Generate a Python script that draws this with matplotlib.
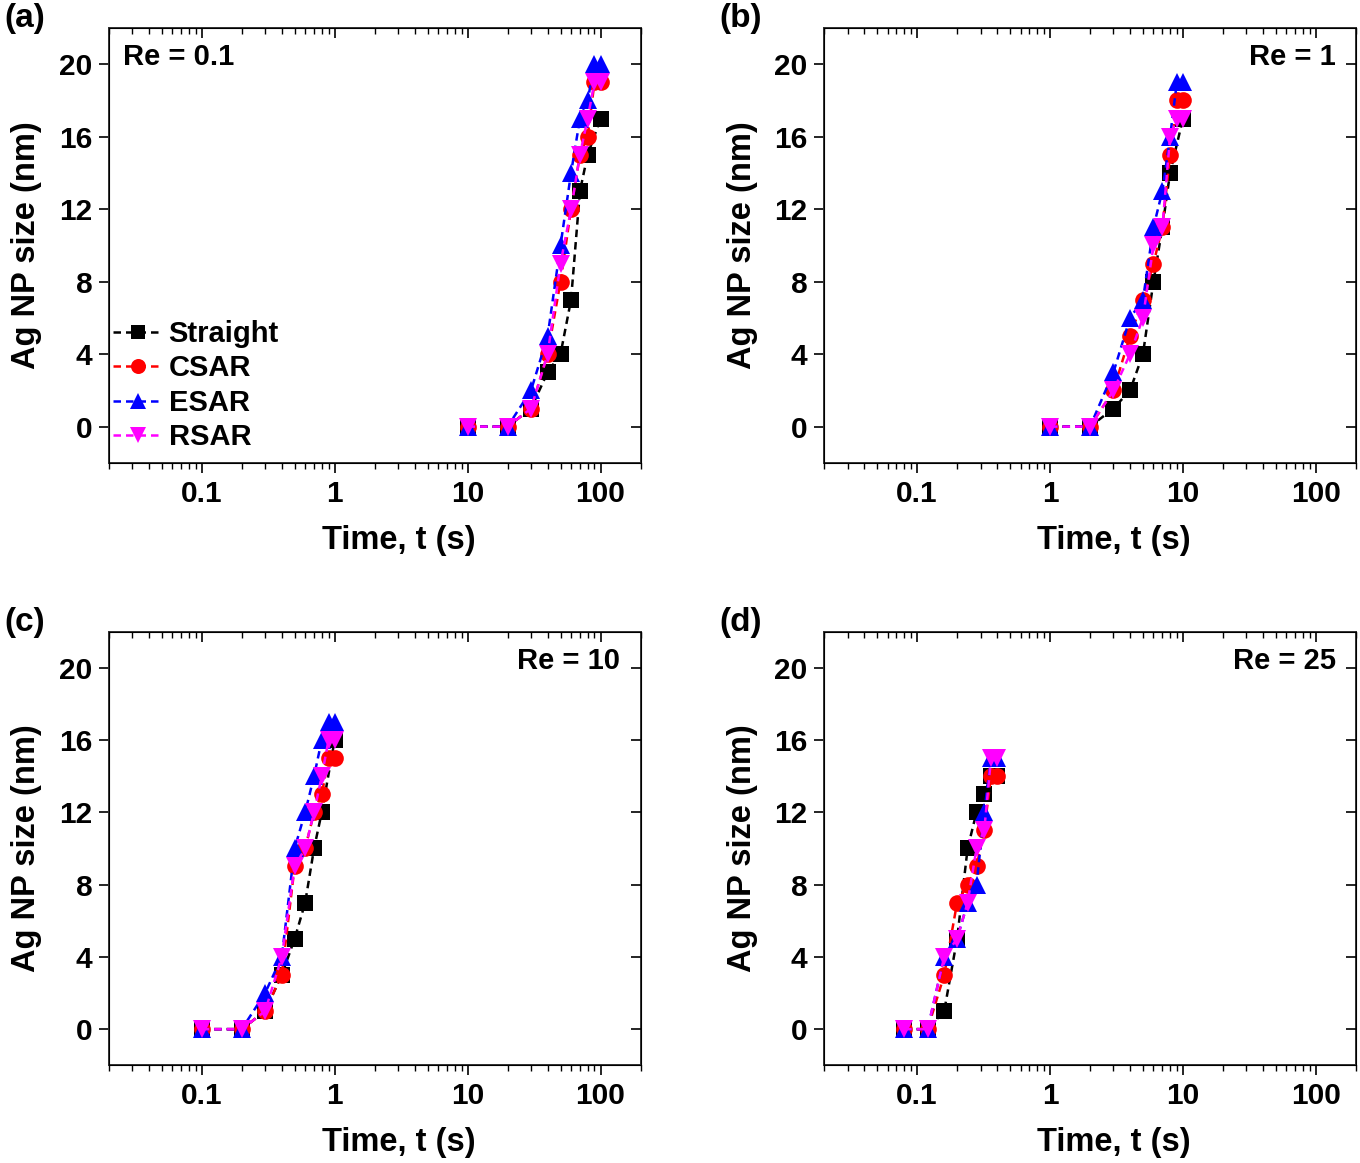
import matplotlib
matplotlib.use("Agg")
import matplotlib.pyplot as plt
from matplotlib.ticker import FixedLocator, LogLocator, NullFormatter, FuncFormatter

plt.rcParams['font.family'] = ['Liberation Sans', 'DejaVu Sans']
plt.rcParams['font.weight'] = 'bold'
plt.rcParams['axes.labelweight'] = 'bold'

# ---- data ----
series_names = ['Straight', 'CSAR', 'ESAR', 'RSAR']
series_colors = ['black', 'red', 'blue', 'magenta']
series_markers = ['s', 'o', '^', 'v']
series_msize = [11, 12, 13, 13]

panel_tags = ['(a)', '(b)', '(c)', '(d)']
panel_re = ['Re = 0.1', 'Re = 1', 'Re = 10', 'Re = 25']

# (a) Re = 0.1
t_a = [10, 20, 30, 40, 50, 60, 70, 80, 90, 100]
t_a_straight = [10, 20, 30, 40, 50, 60, 70, 80, 100]
straight_a = [0, 0, 1, 3, 4, 7, 13, 15, 17]
csar_a = [0, 0, 1, 4, 8, 12, 15, 16, 19, 19]
esar_a = [0, 0, 2, 5, 10, 14, 17, 18, 20, 20]
rsar_a = [0, 0, 1, 4, 9, 12, 15, 17, 19, 19]

# (b) Re = 1
t_b = [1, 2, 3, 4, 5, 6, 7, 8, 9, 10]
t_b_straight = [1, 2, 3, 4, 5, 6, 7, 8, 10]
straight_b = [0, 0, 1, 2, 4, 8, 11, 14, 17]
csar_b = [0, 0, 2, 5, 7, 9, 11, 15, 18, 18]
esar_b = [0, 0, 3, 6, 7, 11, 13, 16, 19, 19]
rsar_b = [0, 0, 2, 4, 6, 10, 11, 16, 17, 17]

# (c) Re = 10
t_c = [0.1, 0.2, 0.3, 0.4, 0.5, 0.6, 0.7, 0.8, 0.9, 1.0]
t_c_straight = [0.1, 0.2, 0.3, 0.4, 0.5, 0.6, 0.7, 0.8, 1.0]
straight_c = [0, 0, 1, 3, 5, 7, 10, 12, 16]
csar_c = [0, 0, 1, 3, 9, 10, 12, 13, 15, 15]
esar_c = [0, 0, 2, 4, 10, 12, 14, 16, 17, 17]
rsar_c = [0, 0, 1, 4, 9, 10, 12, 14, 16, 16]

# (d) Re = 25
t_d = [0.08, 0.12, 0.16, 0.2, 0.24, 0.28, 0.32, 0.36, 0.4]
straight_d = [0, 0, 1, 5, 10, 12, 13, 14, 14]
csar_d = [0, 0, 3, 7, 8, 9, 11, 14, 14]
esar_d = [0, 0, 4, 5, 7, 8, 12, 15, 15]
rsar_d = [0, 0, 4, 5, 7, 10, 11, 15, 15]

panels = [
    [(t_a_straight, straight_a), (t_a, csar_a), (t_a, esar_a), (t_a, rsar_a)],
    [(t_b_straight, straight_b), (t_b, csar_b), (t_b, esar_b), (t_b, rsar_b)],
    [(t_c_straight, straight_c), (t_c, csar_c), (t_c, esar_c), (t_c, rsar_c)],
    [(t_d, straight_d), (t_d, csar_d), (t_d, esar_d), (t_d, rsar_d)],
]

x_major = [0.1, 1, 10, 100]
y_major = [0, 4, 8, 12, 16, 20]
xlim = (0.02, 200)
ylim = (-2, 22)

fig = plt.figure(figsize=(13.6, 11.63), dpi=100)

# axes boxes in figure fractions: left, bottom, width, height
boxes = [
    (0.080, 0.602, 0.391, 0.374),
    (0.606, 0.602, 0.391, 0.374),
    (0.080, 0.084, 0.391, 0.373),
    (0.606, 0.084, 0.391, 0.373),
]
tag_pos = [(0.003, 0.997), (0.529, 0.997), (0.003, 0.478), (0.529, 0.478)]


def fmt_x(v, pos):
    return '%g' % v


def style_axis(ax):
    ax.set_xscale('log')
    ax.set_xlim(xlim)
    ax.set_ylim(ylim)
    ax.xaxis.set_major_locator(FixedLocator(x_major))
    ax.xaxis.set_minor_locator(LogLocator(base=10, subs=range(2, 10), numticks=20))
    ax.xaxis.set_minor_formatter(NullFormatter())
    ax.yaxis.set_major_locator(FixedLocator(y_major))
    for sp in ax.spines.values():
        sp.set_linewidth(1.2)
        sp.set_color('#333333')


for i in range(4):
    ax = fig.add_axes(boxes[i])
    style_axis(ax)
    ax.xaxis.set_major_formatter(FuncFormatter(fmt_x))
    ax.tick_params(axis='both', which='major', direction='out', length=7, width=1.2,
                   labelsize=21.5, pad=5)
    ax.tick_params(axis='both', which='minor', direction='out', length=4, width=1.0)
    ax.tick_params(axis='y', which='minor', left=False)

    for k, (tx, ty) in enumerate(panels[i]):
        ax.plot(tx, ty, linestyle=(0, (3, 2)), linewidth=1.8, color=series_colors[k],
                marker=series_markers[k], markersize=series_msize[k],
                markeredgewidth=0, label=series_names[k])

    ax.set_xlabel('Time, t (s)', fontsize=23.5)
    ax.set_ylabel('Ag NP size (nm)', fontsize=23.5)
    ax.xaxis.set_label_coords(0.545, -0.142)
    ax.yaxis.set_label_coords(-0.125, 0.5)

    # mirrored ticks on top and right, pointing in
    top = ax.twiny()
    style_axis(top)
    top.tick_params(axis='x', which='major', direction='in', length=7, width=1.2, labeltop=False)
    top.tick_params(axis='x', which='minor', direction='in', length=4, width=1.0)
    right = ax.twinx()
    right.set_ylim(ylim)
    right.yaxis.set_major_locator(FixedLocator(y_major))
    right.tick_params(axis='y', which='major', direction='in', length=7, width=1.2, labelright=False)

    if i == 0:
        ax.text(0.027, 0.932, panel_re[i], transform=ax.transAxes, fontsize=21,
                fontweight='bold', ha='left', va='center')
        ax.legend(loc='lower left', bbox_to_anchor=(-0.03, -0.02), frameon=False,
                  fontsize=21, handlelength=1.7, handletextpad=0.2, labelspacing=0.22,
                  borderpad=0.2, numpoints=1, markerscale=0.9)
    else:
        ax.text(0.962, 0.932, panel_re[i], transform=ax.transAxes, fontsize=21,
                fontweight='bold', ha='right', va='center')

    fig.text(tag_pos[i][0], tag_pos[i][1], panel_tags[i], fontsize=24, fontweight='bold',
             ha='left', va='top')

fig.savefig('out.png', dpi=100)
